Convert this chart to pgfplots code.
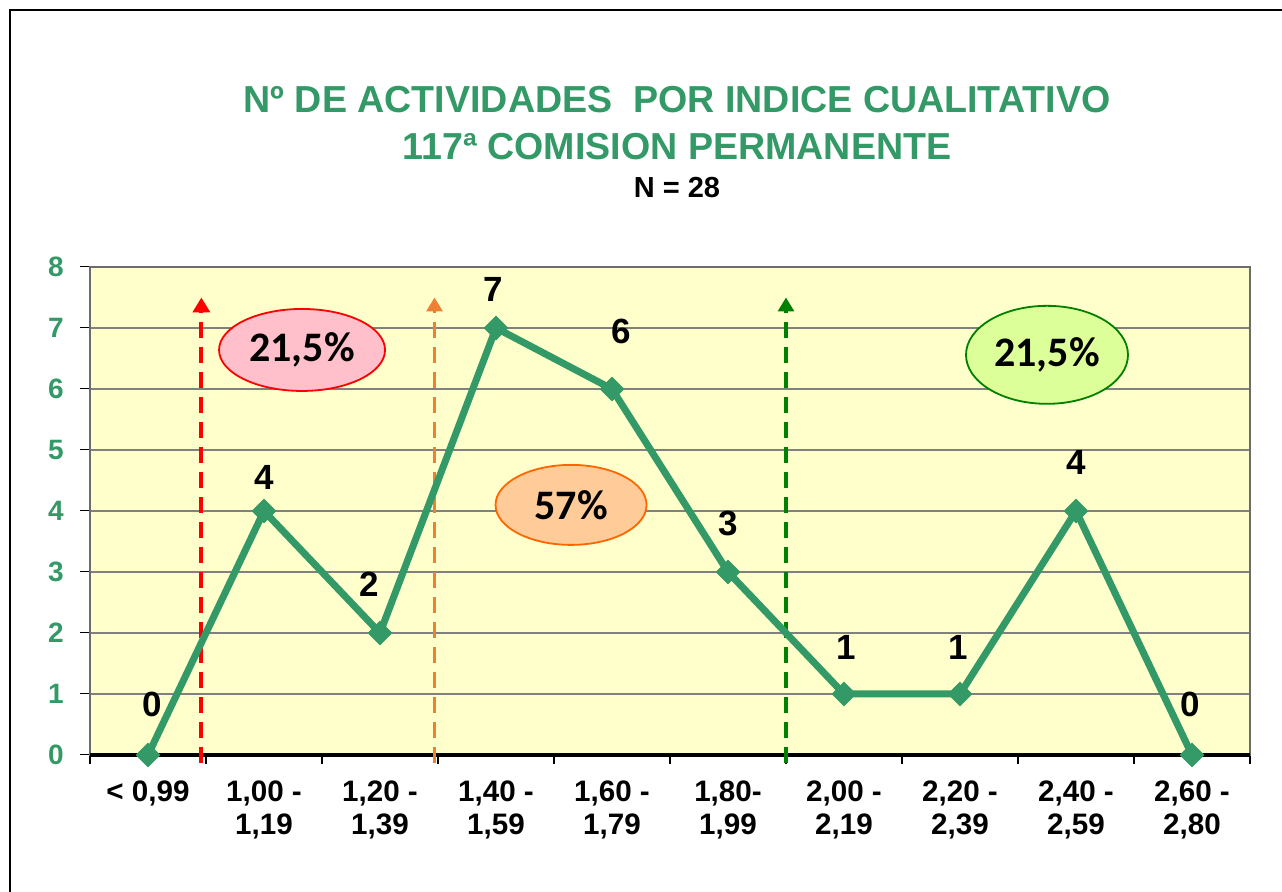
\documentclass[border=0pt]{standalone}
\usepackage{pgfplots}
\pgfplotsset{compat=1.18}
\usepackage{pgfplotstable}
\usepackage{fontspec}
\setmainfont{Liberation Sans}
\newfontfamily\calibri{Carlito}
\usetikzlibrary{arrows.meta,shapes.geometric}

\definecolor{verde}{HTML}{339966}
\definecolor{fondo}{HTML}{FFFFCC}
\definecolor{rosa}{HTML}{FFC0CB}
\definecolor{lima}{HTML}{DDFF99}
\definecolor{verdeosc}{HTML}{008000}
\definecolor{naranja}{HTML}{FFCC99}
\definecolor{naranjab}{HTML}{FF6600}
\definecolor{naranjaf}{HTML}{EE8033}

% idx, value, label offsets (pt)
\pgfplotstableread{
idx val dx dy
0 0 2 19
1 4 0 10.5
2 2 -5.5 18
3 7 -1.5 13
4 6 4.5 22.5
5 3 0 18
6 1 1 17
7 1 -1 17
8 4 0 18
9 0 -1 19
}\actividades

\begin{document}
\begin{tikzpicture}
\useasboundingbox (-45pt,-68.5pt) rectangle (596pt,377.5pt);
\draw[black, line width=1pt] (-40pt,-70pt) -- (-40pt,372.5pt) -- (600pt,372.5pt);

\node[text=verde, font=\bfseries\fontsize{18.8}{22}\selectfont] at (293.5pt,327.5pt)
  {Nº DE ACTIVIDADES\ \ POR INDICE CUALITATIVO};
\node[text=verde, font=\bfseries\fontsize{18.8}{22}\selectfont] at (293.5pt,304pt)
  {117ª COMISION PERMANENTE};
\node[text=black, font=\bfseries\fontsize{14.5}{17}\selectfont] at (293.5pt,283.5pt)
  {N = 28};

\begin{axis}[
  at={(0,0)}, anchor=south west,
  scale only axis, width=580pt, height=244pt,
  xmin=-0.5, xmax=9.5, ymin=0, ymax=8,
  clip=false,
  axis background/.style={fill=fondo},
  axis line style={draw=gray!85!black, line width=0.8pt},
  ymajorgrids, grid style={gray, line width=0.8pt},
  ytick={0,...,8},
  xtick={0,...,9},
  xticklabels={{< 0,99},{1,00 -\\1,19},{1,20 -\\1,39},{1,40 -\\1,59},{1,60 -\\1,79},
    {1,80-\\1,99},{2,00 -\\2,19},{2,20 -\\2,39},{2,40 -\\2,59},{2,60 -\\2,80}},
  minor xtick={-0.5,0.5,...,9.5},
  major x tick style={draw=none},
  minor x tick style={black, line width=1.2pt},
  minor tick length=4.5pt,
  major tick length=5pt,
  tick align=outside,
  xtick pos=bottom, ytick pos=left,
  ytick style={black, line width=0.5pt},
  /pgf/number format/assume math mode=true,
  yticklabel style={text=verde, font=\bfseries\fontsize{14}{16}\selectfont, inner sep=0pt, xshift=-8pt},
  xticklabel style={font=\bfseries\fontsize{14.8}{16.5}\selectfont, align=center, anchor=north, inner sep=0pt, yshift=-7.5pt},
]
\draw[black, line width=1.6pt] (axis cs:-0.5,0) -- (axis cs:9.5,0);

\addplot[red, line width=2pt, dash pattern=on 8pt off 4.5pt, -{Triangle[width=8.5pt,length=7.5pt]}]
  coordinates {(0.46,-0.13) (0.46,7.5)};
\addplot[naranjaf, line width=1.6pt, dash pattern=on 8pt off 4.5pt, -{Triangle[width=8pt,length=7pt]}]
  coordinates {(2.47,-0.13) (2.47,7.5)};
\addplot[verdeosc, line width=1.6pt, dash pattern=on 8pt off 4.5pt, -{Triangle[width=8pt,length=7pt]}]
  coordinates {(5.5,-0.13) (5.5,7.5)};

\addplot[verde, line width=3.5pt, mark=square*, mark size=4.1pt,
  mark options={rotate=45, solid, line width=0.5pt, fill=verde},
  point meta=explicit symbolic, nodes near coords,
  visualization depends on={\thisrow{dx} \as \dx},
  visualization depends on={\thisrow{dy} \as \dy},
  every node near coord/.append style={anchor=south, inner sep=0pt, text=black,
    xshift=\dx pt, yshift=\dy pt, font=\bfseries\fontsize{17.5}{19}\selectfont}]
  table[x=idx, y=val, meta=val] {\actividades};

\node[ellipse, draw=red, line width=0.9pt, fill=rosa, minimum width=83pt, minimum height=41pt,
  inner sep=0pt, font=\calibri\bfseries\fontsize{21}{24}\selectfont] at (axis cs:1.328,6.64) {21,5\%};
\node[ellipse, draw=naranjab, line width=0.9pt, fill=naranja, minimum width=75.5pt, minimum height=40pt,
  inner sep=0pt, font=\calibri\bfseries\fontsize{21}{24}\selectfont] at (axis cs:3.647,4.10) {57\%};
\node[ellipse, draw=verdeosc, line width=0.9pt, fill=lima, minimum width=81pt, minimum height=49pt,
  inner sep=0pt, font=\calibri\bfseries\fontsize{21}{24}\selectfont] at (axis cs:7.75,6.56) {21,5\%};
\end{axis}
\end{tikzpicture}
\end{document}
